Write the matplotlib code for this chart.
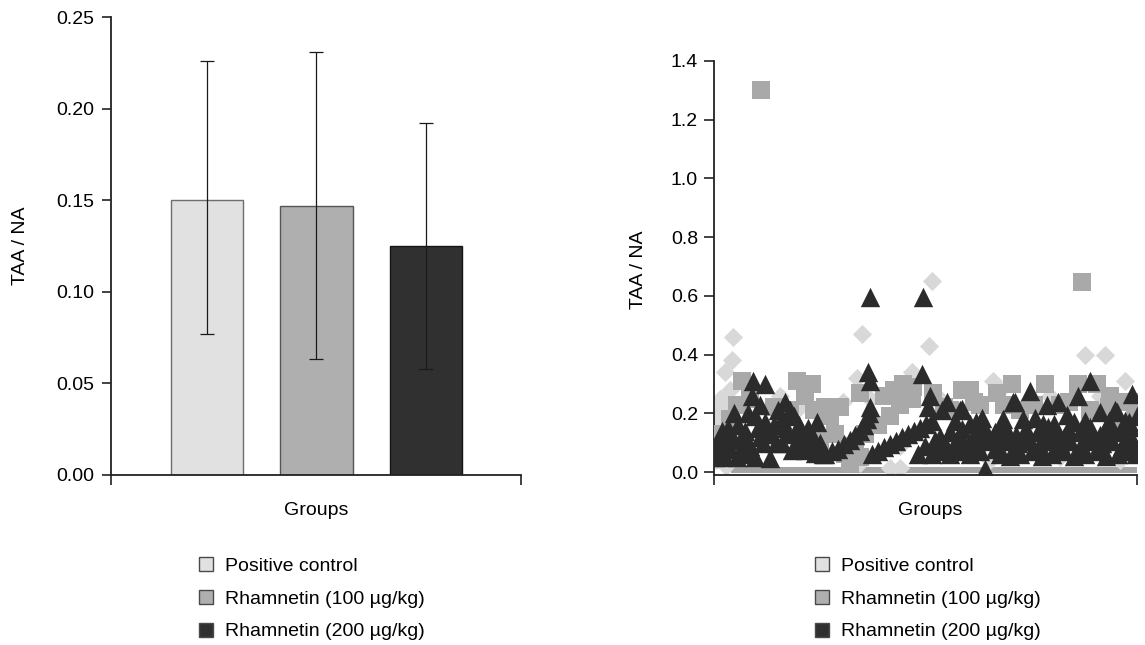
import numpy as np
import matplotlib
matplotlib.use("Agg")
import matplotlib.pyplot as plt
from matplotlib.patches import Patch

plt.rcParams['font.family'] = ['Liberation Sans', 'DejaVu Sans']

# ---- data: bar chart (mean, lower/upper error) ----
groups = ['Positive control', 'Rhamnetin (100 µg/kg)', 'Rhamnetin (200 µg/kg)']
bar_means = [0.150, 0.147, 0.125]
err_low = [0.073, 0.084, 0.067]
err_high = [0.076, 0.084, 0.067]
colors = ['#e1e1e1', '#afafaf', '#303030']
edges = ['#6e6e6e', '#555555', '#151515']

# ---- data: individual values (position along group axis, value) ----
pc_x = [19, 18, 11, 148, 218, 215, 198, 143, 279, 371, 391, 411, 176, 186, 129, 286,
        1, 6, 16, 66, 86, 156, 226, 316, 336, 386, 26, 186, 146, 276, 346, 406,
        2, 4, 10, 2, 12]
pc_y = [0.46, 0.38, 0.34, 0.47, 0.65, 0.43, 0.34, 0.32, 0.31, 0.40, 0.40, 0.31, 0.014, 0.014, 0.24, 0.28,
        0.20, 0.25, 0.28, 0.26, 0.22, 0.25, 0.25, 0.25, 0.26, 0.26, 0.11, 0.09, 0.03, 0.04, 0.05, 0.04,
        0.12, 0.18, 0.22, 0.04, 0.02]

r100_x = [47, 368, 28, 23, 83, 98, 111, 126, 146, 189, 199, 219, 248, 256, 283, 298, 331, 364,
          383, 396, 411, 6, 136, 131, 141, 151, 164, 176, 186, 198, 16, 76, 91, 116, 236, 266,
          306, 346, 376, 406, 421, 121, 106, 146,
          36, 60, 100, 230, 260, 290, 320, 355, 395, 415, 170, 180]
r100_y = [1.30, 0.647, 0.31, 0.23, 0.31, 0.30, 0.22, 0.22, 0.27, 0.30, 0.29, 0.27, 0.28, 0.28, 0.27,
          0.30, 0.30, 0.30, 0.30, 0.26, 0.24, 0.13, 0.03, 0.06, 0.09, 0.13, 0.16, 0.19, 0.23, 0.25,
          0.18, 0.21, 0.26, 0.19, 0.21, 0.23, 0.21, 0.23, 0.21, 0.16, 0.21, 0.13, 0.11, 0.05,
          0.25, 0.22, 0.21, 0.22, 0.24, 0.23, 0.23, 0.24, 0.22, 0.24, 0.26, 0.28]
r100_zero_x = [24, 32, 40, 48, 56, 64, 72, 80, 88, 96, 104, 112, 120, 128, 136, 144, 152, 160,
               168, 176, 184, 192, 200, 208, 216, 224, 232, 240, 248, 256, 264, 272, 280, 288,
               296, 304, 312, 320, 328, 336, 344, 352, 360, 368, 376, 384, 392, 400, 408, 416]
r100_zero_y = [0.007] * len(r100_zero_x)

r200_x = [39, 51, 38, 46, 71, 76, 68, 41, 51, 103, 94, 24, 8, 14, 31, 58, 81, 88, 0, 4, 19, 28,
          34, 41, 56, 49, 68, 78, 91, 101, 109, 1, 11, 23, 84, 96, 16, 46, 34, 60, 64, 28, 85,
          74, 98, 20,
          6, 12, 36, 44, 54, 62, 88, 106, 72, 80,
          111, 118, 124, 130, 136, 141, 146, 150, 153, 155, 156, 154, 156, 156,
          158, 164, 170, 176, 182, 188, 194, 200, 206, 212, 218, 208, 209, 216, 214, 233, 248,
          228, 271, 204, 211, 218, 221,
          316, 301, 333, 344, 376, 364, 418, 423, 386, 403, 289, 309, 353, 283, 246, 299, 401,
          226, 236, 246, 256, 266, 286, 296, 306, 318, 328, 338, 350, 360, 371, 382, 392, 404, 414, 422,
          231, 242, 252, 262, 274, 284, 294, 304, 316, 326, 336, 346, 356, 368, 378, 388, 398, 408, 419,
          236, 248, 260, 271, 281, 292, 302, 312, 324, 334, 344, 354, 366, 376, 386, 396, 406, 416,
          221, 241, 261, 281, 301, 323, 343, 365, 387, 409,
          226, 246, 266, 288, 308, 330, 350, 372, 392, 412,
          241, 256, 268, 321, 329, 371, 394, 411, 262, 290, 340, 360, 395, 415]
r200_y = [0.31, 0.30, 0.26, 0.23, 0.24, 0.21, 0.18, 0.19, 0.17, 0.17, 0.15, 0.16, 0.14, 0.15, 0.14,
          0.13, 0.135, 0.13, 0.08, 0.10, 0.11, 0.08, 0.06, 0.05, 0.048, 0.10, 0.10, 0.075, 0.075,
          0.065, 0.06, 0.05, 0.05, 0.05, 0.10, 0.10, 0.08, 0.12, 0.20, 0.16, 0.21, 0.12, 0.16,
          0.13, 0.125, 0.20,
          0.12, 0.09, 0.09, 0.15, 0.13, 0.10, 0.09, 0.10, 0.15, 0.19,
          0.06, 0.07, 0.08, 0.095, 0.11, 0.125, 0.14, 0.16, 0.18, 0.20, 0.22, 0.34, 0.31, 0.596,
          0.06, 0.07, 0.085, 0.095, 0.105, 0.12, 0.13, 0.14, 0.15, 0.165, 0.175, 0.335, 0.596, 0.26,
          0.22, 0.24, 0.215, 0.21, 0.01, 0.06, 0.09, 0.06, 0.11,
          0.275, 0.24, 0.23, 0.24, 0.31, 0.26, 0.265, 0.19, 0.205, 0.205, 0.18, 0.18, 0.195, 0.125,
          0.21, 0.24, 0.21,
          0.07, 0.06, 0.07, 0.06, 0.07, 0.06, 0.055, 0.06, 0.07, 0.055, 0.06, 0.07, 0.055, 0.06, 0.07,
          0.055, 0.06, 0.07, 0.06,
          0.095, 0.105, 0.09, 0.10, 0.105, 0.09, 0.105, 0.10, 0.105, 0.09, 0.105, 0.10, 0.105, 0.09,
          0.105, 0.10, 0.105, 0.09, 0.105,
          0.135, 0.145, 0.125, 0.145, 0.135, 0.145, 0.125, 0.145, 0.135, 0.155, 0.125, 0.145, 0.135,
          0.155, 0.125, 0.145, 0.135, 0.155,
          0.08, 0.08, 0.075, 0.08, 0.08, 0.075, 0.08, 0.08, 0.075, 0.08,
          0.12, 0.115, 0.12, 0.115, 0.12, 0.115, 0.12, 0.115, 0.12, 0.115,
          0.175, 0.165, 0.185, 0.185, 0.165, 0.175, 0.165, 0.175, 0.17, 0.16, 0.165, 0.17, 0.175, 0.17]

fig = plt.figure(figsize=(11.45, 6.45), dpi=100)

axis_col = '#222222'
fs = 14


def style_axes(ax, ylen, ypad):
    for s in ['top', 'right']:
        ax.spines[s].set_visible(False)
    for s in ['left', 'bottom']:
        ax.spines[s].set_linewidth(1.3)
        ax.spines[s].set_color(axis_col)
    ax.tick_params(axis='y', direction='out', length=ylen, width=1.2, color=axis_col,
                   labelsize=fs, pad=ypad)
    ax.tick_params(axis='x', direction='out', length=7.5, width=1.2, color=axis_col,
                   labelbottom=False)


# ---- left: bar chart ----
ax1 = fig.add_axes([0.0967, 0.2640, 0.3583, 0.7092])
xpos = np.arange(1, len(groups) + 1)
ax1.bar(xpos, bar_means, width=0.66, color=colors, edgecolor=edges, linewidth=1.0, zorder=2)
ax1.errorbar(xpos, bar_means, yerr=[err_low, err_high], fmt='none', ecolor='#1a1a1a',
             elinewidth=0.9, capsize=5, capthick=0.9, zorder=3)
ax1.set_xlim(0.121, 3.868)
ax1.set_ylim(0, 0.25)
ax1.set_yticks([0, 0.05, 0.10, 0.15, 0.20, 0.25])
ax1.set_yticklabels(['0.00', '0.05', '0.10', '0.15', '0.20', '0.25'])
ax1.set_xticks([0.121, 3.868])
style_axes(ax1, 6.5, 5)
ax1.set_ylabel('TAA / NA', fontsize=fs)
ax1.yaxis.set_label_coords(-0.200, 0.5)
ax1.set_xlabel('Groups', fontsize=fs)
ax1.xaxis.set_label_coords(0.5, -0.060)

# ---- right: individual values ----
band_marker = [(-1, -0.5), (1, -0.5), (1, 0.5), (-1, 0.5)]
ax2 = fig.add_axes([0.6236, 0.2636, 0.3694, 0.6419])
ax2.scatter(r100_zero_x, r100_zero_y, marker=band_marker, s=100, color='#a4a4a4',
            linewidths=0, zorder=1.5)
ax2.scatter(pc_x, pc_y, marker='D', s=95, color='#d8d8d8', linewidths=0, zorder=2)
ax2.scatter(r100_x, r100_y, marker='s', s=150, color='#a9a9a9', linewidths=0, zorder=3)
ax2.scatter(r200_x, r200_y, marker='^', s=195, color='#2b2b2b', linewidths=0, zorder=4)
ax2.set_xlim(0, 423)
ax2.set_ylim(-0.01, 1.4)
ax2.set_yticks([0, 0.2, 0.4, 0.6, 0.8, 1.0, 1.2, 1.4])
ax2.set_yticklabels(['0.0', '0.2', '0.4', '0.6', '0.8', '1.0', '1.2', '1.4'])
ax2.set_xticks([0, 423])
style_axes(ax2, 7, 4.5)
ax2.set_ylabel('TAA / NA', fontsize=fs)
ax2.yaxis.set_label_coords(-0.158, 0.495)
ax2.set_xlabel('Groups', fontsize=fs)
ax2.xaxis.set_label_coords(0.51, -0.0655)

# ---- legends ----
handles = [Patch(facecolor=c, edgecolor='#4a4a4a', linewidth=1.0) for c in colors]
for lx in [0.1738, 0.7118]:
    fig.legend(handles, groups, loc='upper left', bbox_to_anchor=(lx, 0.1365),
               frameon=False, fontsize=fs, handlelength=0.72, handleheight=0.72,
               handletextpad=0.62, labelspacing=0.78, borderpad=0, borderaxespad=0)

fig.savefig('out.png', dpi=100)
